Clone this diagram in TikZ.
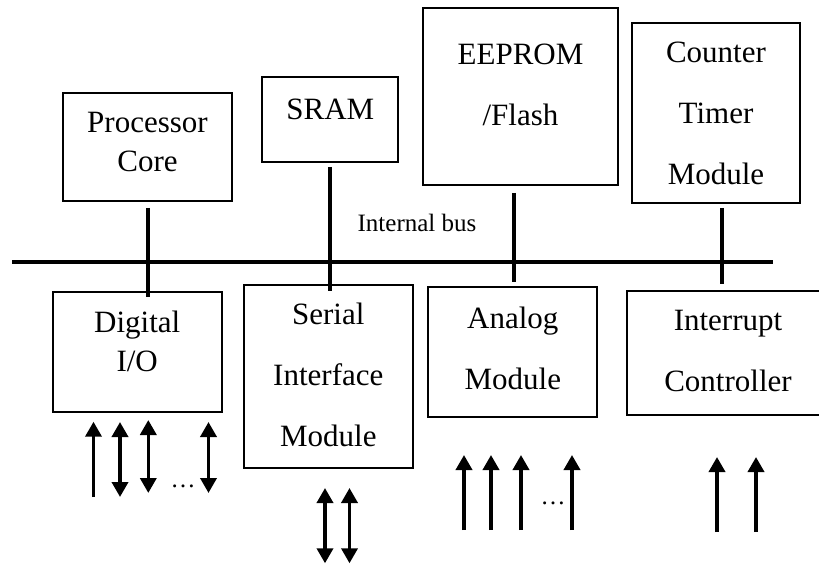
\documentclass[tikz,border=0pt]{standalone}
\usepackage{fontspec}
\setmainfont{Liberation Serif}
\usetikzlibrary{arrows.meta,fit}
\begin{document}
\begin{tikzpicture}[x=1pt,y=-1pt,
  box/.style={draw, line width=1.6pt, inner sep=0pt},
  txtA/.style={inner sep=0pt, anchor=base, font=\fontsize{31}{39}\selectfont},
  txtB/.style={inner sep=0pt, anchor=base, font=\fontsize{31}{61}\selectfont},
  lbl/.style={inner sep=0pt, anchor=base, font=\fontsize{25}{25}\selectfont},
  conn/.style={line width=4pt},
  busline/.style={line width=4pt},
  tipA/.tip={Triangle[width=16pt,length=15pt]},
  sig/.style={line width=3.6pt, -tipA},
  bisig/.style={line width=3.6pt, tipA-tipA}]
\clip (0,0) rectangle (819,564);

% boxes
\node[box, fit={(63,93) (232,201)}] (pc) {};
\node[box, fit={(262,77) (398,162)}] (sram) {};
\node[box, fit={(423,8) (618,185)}] (ee) {};
\node[box, fit={(632,23) (800,203)}] (ct) {};
\node[box, fit={(53,292) (222,412)}] (dio) {};
\node[box, fit={(244,285) (413,468)}] (ser) {};
\node[box, fit={(428,287) (597,417)}] (an) {};
\node[box, fit={(627,291) (829,415)}] (ic) {};

% texts
\node[txtA] (pct) at (147.5,133) {\begin{tabular}[t]{@{}c@{}}Processor\\Core\end{tabular}};
\node[txtA] (sramt) at (330.3,119.3) {SRAM};
\node[txtB] (eet) at (520.5,65) {\begin{tabular}[t]{@{}c@{}}EEPROM\\/Flash\end{tabular}};
\node[txtB] (ctt) at (716,63) {\begin{tabular}[t]{@{}c@{}}Counter\\Timer\\Module\end{tabular}};
\node[txtA] (diot) at (137.2,332) {\begin{tabular}[t]{@{}c@{}}Digital\\I/O\end{tabular}};
\node[txtB] (sert) at (328.3,324) {\begin{tabular}[t]{@{}c@{}}Serial\\Interface\\Module\end{tabular}};
\node[txtB] (ant) at (512.8,328) {\begin{tabular}[t]{@{}c@{}}Analog\\Module\end{tabular}};
\node[txtB] (ict) at (728,330) {\begin{tabular}[t]{@{}c@{}}Interrupt\\Controller\end{tabular}};
\node[lbl] (busl) at (417,231.7) {Internal bus};

% bus
\coordinate (busL) at (12,262);
\coordinate (busR) at (773,262);
\draw[busline] (busL) -- (busR);

% connectors
\coordinate (c1t) at (148,208);  \coordinate (c1b) at (148,297);
\coordinate (c2t) at (330,167);  \coordinate (c2b) at (330,291);
\coordinate (c3t) at (514,193);  \coordinate (c3b) at (514,282);
\coordinate (c4t) at (722,208);  \coordinate (c4b) at (722,284);
\draw[conn] (c1t) -- (c1b);
\draw[conn] (c2t) -- (c2b);
\draw[conn] (c3t) -- (c3b);
\draw[conn] (c4t) -- (c4b);

% signal arrows
\foreach \n/\x/\t/\b/\s in {
  d1/93.5/421.7/497/sig, d2/120/422/497/bisig, d3/148.3/420/493/bisig, d4/208.5/422/493/bisig,
  s1/325/488/563.3/bisig, s2/349.5/488/563.3/bisig,
  a1/464/455/530/sig, a2/491/455/530/sig, a3/521/455/530/sig, a4/572/455/530/sig,
  i1/717/457/532/sig, i2/756/457/532/sig} {
  \coordinate (\n t) at (\x,\t);
  \coordinate (\n b) at (\x,\b);
  \draw[\s] (\n b) -- (\n t);
}
\node[lbl] (dots1) at (183,487.5) {…};
\node[lbl] (dots2) at (553,504.5) {…};
\end{tikzpicture}
\end{document}
